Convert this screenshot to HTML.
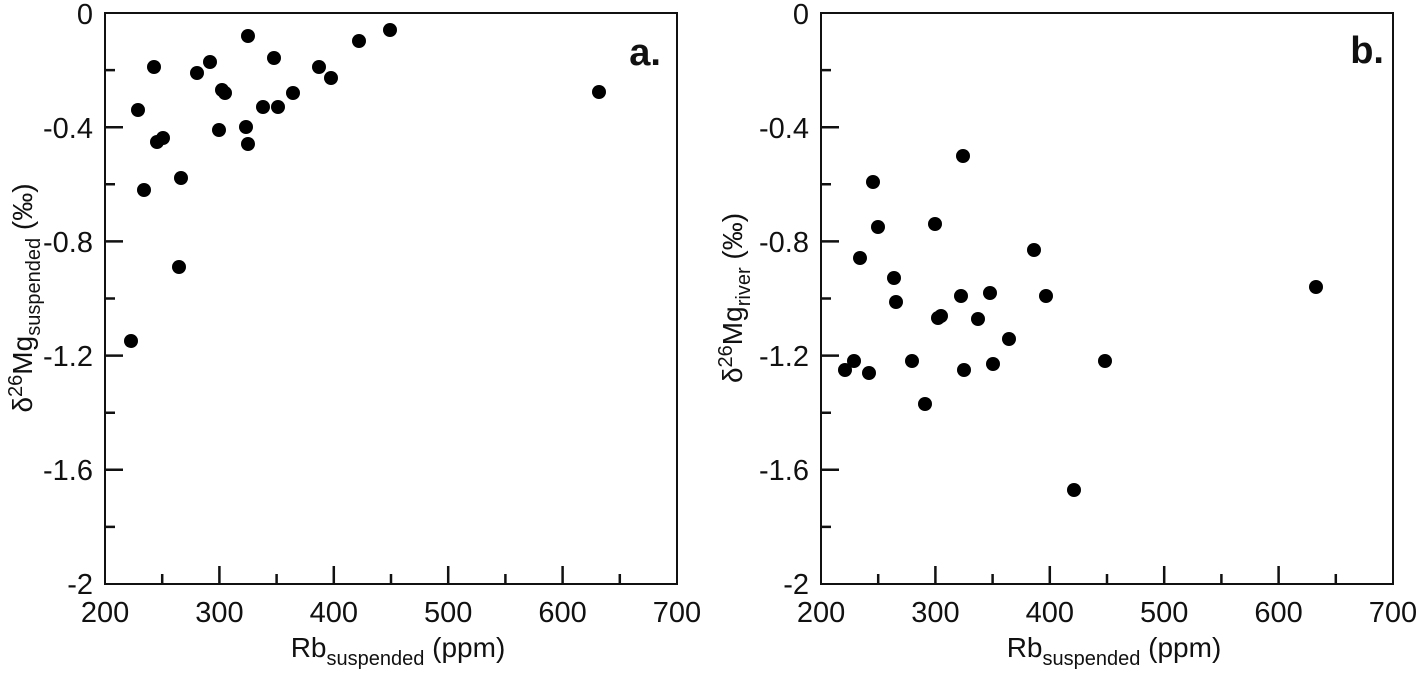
<!DOCTYPE html>
<html><head><style>
body{margin:0;background:#fff}
svg text{font-family:"Liberation Sans",Arial,sans-serif;fill:#111}
</style></head><body>
<svg width="1419" height="672" viewBox="0 0 1419 672" xmlns="http://www.w3.org/2000/svg">
<defs>
<g id="axes" stroke="#111" fill="none">
<rect x="0" y="0" width="572" height="571" stroke-width="2"/>
<path stroke-width="2.5" d="M0,57.1h10M0,114.2h18M0,171.3h10M0,228.4h18M0,285.5h10M0,342.6h18M0,399.7h10M0,456.8h18M0,513.9h10"/>
<path stroke-width="2.5" d="M57.2,571v-10M114.4,571v-18M171.6,571v-10M228.8,571v-18M286,571v-10M343.2,571v-18M400.4,571v-10M457.6,571v-18M514.8,571v-10"/>
</g>
<g id="ticks" font-size="29" text-anchor="end">
<text x="-12" y="11">0</text>
<text x="-12" y="125">-0.4</text>
<text x="-12" y="239">-0.8</text>
<text x="-12" y="353">-1.2</text>
<text x="-12" y="467">-1.6</text>
<text x="-12" y="581">-2</text>
<g text-anchor="middle">
<text x="0" y="609">200</text><text x="114.4" y="609">300</text><text x="228.8" y="609">400</text>
<text x="343.2" y="609">500</text><text x="457.6" y="609">600</text><text x="572" y="609">700</text>
</g>
<text x="293" y="644" font-size="28" text-anchor="middle">Rb<tspan font-size="20" dy="8">suspended</tspan><tspan dy="-8"> (ppm)</tspan></text>
</g>
</defs>
<g transform="translate(105,13)"><use href="#axes"/><use href="#ticks"/></g>
<g transform="translate(821,13)"><use href="#axes"/><use href="#ticks"/></g>
<text x="661" y="65" font-size="38" font-weight="bold" text-anchor="end">a.</text>
<text x="1384" y="63" font-size="38" font-weight="bold" text-anchor="end">b.</text>
<text transform="translate(32,298) rotate(-90)" font-size="28" text-anchor="middle">δ<tspan font-size="20" dy="-10">26</tspan><tspan dy="10">Mg</tspan><tspan font-size="20" dy="8">suspended</tspan><tspan dy="-8"> (‰)</tspan></text>
<text transform="translate(742,298) rotate(-90)" font-size="28" text-anchor="middle">δ<tspan font-size="20" dy="-10">26</tspan><tspan dy="10">Mg</tspan><tspan font-size="20" dy="8">river</tspan><tspan dy="-8"> (‰)</tspan></text>
<g fill="#000">
<circle cx="131" cy="341" r="7"/><circle cx="138" cy="110" r="7"/><circle cx="144" cy="190" r="7"/><circle cx="154" cy="67" r="7"/><circle cx="157" cy="142" r="7"/><circle cx="163" cy="138" r="7"/><circle cx="179" cy="267" r="7"/><circle cx="181" cy="178" r="7"/><circle cx="197" cy="73" r="7"/><circle cx="210" cy="62" r="7"/><circle cx="219" cy="130" r="7"/><circle cx="222" cy="90" r="7"/><circle cx="225" cy="93" r="7"/><circle cx="246" cy="127" r="7"/><circle cx="248" cy="144" r="7"/><circle cx="248" cy="36" r="7"/><circle cx="263" cy="107" r="7"/><circle cx="274" cy="58" r="7"/><circle cx="278" cy="107" r="7"/><circle cx="293" cy="93" r="7"/><circle cx="319" cy="67" r="7"/><circle cx="331" cy="78" r="7"/><circle cx="359" cy="41" r="7"/><circle cx="390" cy="30" r="7"/><circle cx="599" cy="92" r="7"/>
<circle cx="845" cy="370" r="7"/><circle cx="854" cy="361" r="7"/><circle cx="860" cy="258" r="7"/><circle cx="869" cy="373" r="7"/><circle cx="873" cy="182" r="7"/><circle cx="878" cy="227" r="7"/><circle cx="894" cy="278" r="7"/><circle cx="896" cy="302" r="7"/><circle cx="912" cy="361" r="7"/><circle cx="925" cy="404" r="7"/><circle cx="935" cy="224" r="7"/><circle cx="938" cy="318" r="7"/><circle cx="941" cy="316" r="7"/><circle cx="961" cy="296" r="7"/><circle cx="963" cy="156" r="7"/><circle cx="964" cy="370" r="7"/><circle cx="978" cy="319" r="7"/><circle cx="990" cy="293" r="7"/><circle cx="993" cy="364" r="7"/><circle cx="1009" cy="339" r="7"/><circle cx="1034" cy="250" r="7"/><circle cx="1046" cy="296" r="7"/><circle cx="1074" cy="490" r="7"/><circle cx="1105" cy="361" r="7"/><circle cx="1316" cy="287" r="7"/>
</g>
</svg>
</body></html>
